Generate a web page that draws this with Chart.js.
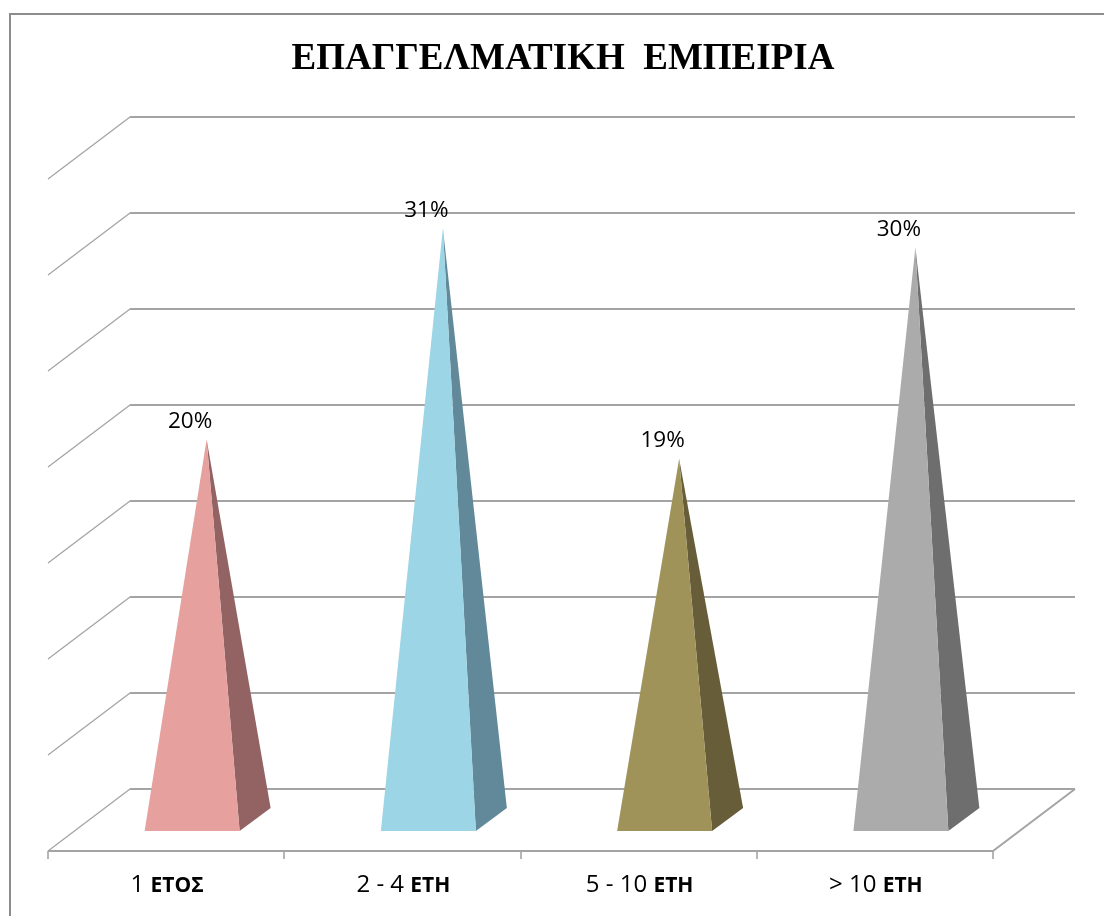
<!DOCTYPE html>
<html lang="el">
<head>
<meta charset="utf-8">
<title>ΕΠΑΓΓΕΛΜΑΤΙΚΗ ΕΜΠΕΙΡΙΑ</title>
<script src="https://cdn.jsdelivr.net/npm/chart.js@4"></script>
<style>
    html, body { margin: 0; padding: 0; background: #fff; overflow: hidden; }
    canvas { display: block; }
</style>
</head>
<body>
<canvas id="experienceChart" width="1104" height="916"></canvas>
<script>
const chartTitle = "ΕΠΑΓΓΕΛΜΑΤΙΚΗ  ΕΜΠΕΙΡΙΑ";
const categories = ["1 ΕΤΟΣ", "2 - 4 ΕΤΗ", "5 - 10 ΕΤΗ", "> 10 ΕΤΗ"];
const percentages = [20, 31, 19, 30];
const faceColors = ["#e6a09e", "#9cd5e6", "#9f935a", "#ababab"];
const sideColors = ["#936363", "#62899a", "#675d39", "#6e6e6e"];

const gridColor = "#a4a4a4";
// how far the floor's front edge sits from the back wall
const depth = { x: -82, y: 62 };

// back wall, side wall and floor, all hung off the y scale ticks
const wallPlugin = {
    id: "walls",
    beforeDatasetsDraw(chart) {
        const { ctx, scales: { x, y }, chartArea } = chart;
        const wallLeft = chartArea.left - depth.x;
        const wallRight = chartArea.right - depth.x;

        ctx.save();
        ctx.strokeStyle = gridColor;
        y.ticks.forEach(tick => {
            const py = y.getPixelForValue(tick.value);
            ctx.lineWidth = 1.3;
            ctx.beginPath();
            ctx.moveTo(chartArea.left, py + depth.y);
            ctx.lineTo(wallLeft, py);
            ctx.stroke();
            ctx.lineWidth = 2;
            ctx.beginPath();
            ctx.moveTo(wallLeft, py);
            ctx.lineTo(wallRight, py);
            ctx.stroke();
        });

        // front edge of the floor and its right side
        const floorY = y.getPixelForValue(0);
        const frontY = floorY + depth.y;
        ctx.beginPath();
        ctx.moveTo(chartArea.left, frontY);
        ctx.lineTo(chartArea.right, frontY);
        ctx.lineTo(wallRight, floorY);
        ctx.stroke();

        // tick marks between the categories
        const band = chartArea.width / categories.length;
        ctx.lineWidth = 1.6;
        for (let i = 0; i <= categories.length; i++) {
            const px = Math.round(x.getPixelForValue(0) - band / 2 + band * i);
            ctx.beginPath();
            ctx.moveTo(px, frontY);
            ctx.lineTo(px, frontY + 8);
            ctx.stroke();
        }
        ctx.restore();
    },
    afterDatasetsDraw(chart) {
        const { ctx, scales: { y } } = chart;
        const meta = chart.getDatasetMeta(0);
        const floorY = y.getPixelForValue(0);

        ctx.save();
        meta.data.forEach((bar, i) => {
            const half = bar.width / 2;
            const baseX = bar.x + 26;
            const frontY = floorY + 42;
            const apexX = bar.x + 40.5;
            const apexY = y.getPixelForValue(percentages[i]) + 34.5;

            ctx.fillStyle = sideColors[i];
            ctx.beginPath();
            ctx.moveTo(baseX + half, frontY);
            ctx.lineTo(baseX + half + 31, frontY - 23);
            ctx.lineTo(apexX, apexY);
            ctx.closePath();
            ctx.fill();

            ctx.fillStyle = faceColors[i];
            ctx.beginPath();
            ctx.moveTo(baseX - half, frontY);
            ctx.lineTo(baseX + half, frontY);
            ctx.lineTo(apexX, apexY);
            ctx.closePath();
            ctx.fill();

            ctx.fillStyle = "#000";
            ctx.font = '22.5px "Open Sans"';
            ctx.textAlign = "center";
            ctx.textBaseline = "middle";
            ctx.fillText(percentages[i] + "%", bar.x + 24, apexY - 18);
        });
        ctx.restore();
    },
    afterDraw(chart) {
        const { ctx, width, height, scales: { x } } = chart;
        ctx.save();

        // outer frame, open on the right and bottom
        ctx.strokeStyle = "#8c8c8c";
        ctx.lineWidth = 2;
        ctx.beginPath();
        ctx.moveTo(10, height);
        ctx.lineTo(10, 14);
        ctx.lineTo(width, 14);
        ctx.stroke();

        ctx.fillStyle = "#000";
        ctx.textBaseline = "middle";
        ctx.textAlign = "center";
        ctx.font = 'bold 37px "Liberation Serif"';
        ctx.fillText(chartTitle, 563, 59);

        // digits are regular, the Greek word is bold
        ctx.textAlign = "left";
        categories.forEach((label, i) => {
            const word = label.match(/[Α-Ω]+$/)[0];
            const prefix = label.slice(0, -word.length);
            const regular = '24px "Open Sans"';
            const bold = 'bold 21px "Open Sans"';
            ctx.font = regular;
            const prefixWidth = ctx.measureText(prefix).width;
            ctx.font = bold;
            const wordWidth = ctx.measureText(word).width;
            const px = x.getPixelForValue(i) + 1 - (prefixWidth + wordWidth) / 2;
            ctx.font = regular;
            ctx.fillText(prefix, px, 885);
            ctx.font = bold;
            ctx.fillText(word, px + prefixWidth, 886);
        });
        ctx.restore();
    },
};

new Chart(document.getElementById("experienceChart"), {
    type: "bar",
    data: {
        labels: categories,
        datasets: [{
            data: percentages,
            backgroundColor: "transparent",
            barPercentage: 0.5,
            categoryPercentage: 0.804,
        }],
    },
    options: {
        responsive: false,
        animation: false,
        layout: { padding: { left: 48, right: 111, top: 117, bottom: 127 } },
        plugins: {
            legend: { display: false },
            tooltip: { enabled: false },
            title: { display: false },
        },
        scales: {
            x: { display: false },
            y: { display: false, min: 0, max: 35, ticks: { stepSize: 5 } },
        },
    },
    plugins: [wallPlugin],
});
</script>
</body>
</html>
